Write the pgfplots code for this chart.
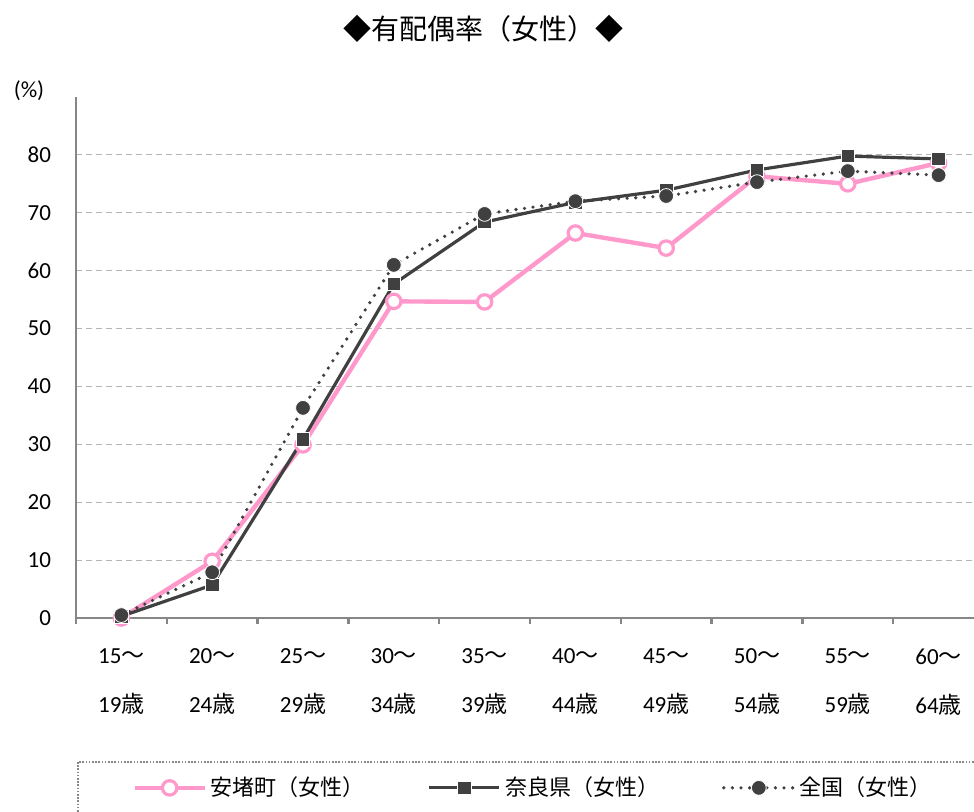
\documentclass[border=0pt]{standalone}
\usepackage{fontspec}
\setmainfont{Carlito}
\newfontfamily\jp{Noto Sans CJK JP}
\usepackage{pgfplots}
\pgfplotsset{compat=1.18}
\definecolor{pinkc}{RGB}{255,153,204}
\definecolor{darkc}{RGB}{64,64,64}
\definecolor{axisc}{RGB}{134,134,134}
\definecolor{gridc}{RGB}{180,180,180}
\newcommand\lab[2]{#1{\jp ～}\\#2{\jp 歳}}
\begin{document}
\begin{tikzpicture}
\useasboundingbox (0,0) rectangle (487pt,405.5pt);
\node[font=\jp\fontsize{14pt}{16pt}\selectfont] at (241.5pt,391pt) {◆有配偶率（女性）◆};
\node[font=\fontsize{11.5pt}{13pt}\selectfont] at (14.5pt,360pt) {(\%)};
\draw[axisc, dash pattern=on 0.8pt off 0.8pt, line width=0.8pt] (39pt,24.5pt) rectangle (500pt,-20pt);
\begin{axis}[
  at={(38pt,96.5pt)}, anchor=south west,
  scale only axis, width=449pt, height=260.5pt,
  xmin=-0.5, xmax=9.39, ymin=0, ymax=90,
  axis x line=bottom, axis y line=left,
  axis line style={axisc, line width=1.2pt, -},
  ytick={0,10,...,80},
  ymajorgrids, grid style={gridc, dash pattern=on 3pt off 2pt, line width=0.6pt},
  ytick style={draw=none},
  yticklabel style={font=\fontsize{11.5pt}{13pt}\selectfont, inner sep=0pt, xshift=-8pt},
  /pgf/number format/assume math mode=true,
  xtick={0,...,9},
  xticklabels={{\lab{15}{19}},{\lab{20}{24}},{\lab{25}{29}},{\lab{30}{34}},{\lab{35}{39}},{\lab{40}{44}},{\lab{45}{49}},{\lab{50}{54}},{\lab{55}{59}},{\lab{60}{64}}},
  xticklabel style={align=center, font=\fontsize{11.5pt}{24.5pt}\selectfont, inner sep=0pt, yshift=-11pt},
  major x tick style={draw=none},
  minor xtick={-0.5,0.5,...,9.5},
  minor x tick style={axisc, line width=1.2pt},
  minor tick length=3pt,
  tick align=outside,
  clip=false,
  legend columns=3,
  legend style={at={(0.0624,-0.326)}, anchor=west, draw=none, fill=none, inner sep=0pt,
    font=\jp\fontsize{11pt}{13pt}\selectfont,
    /tikz/every even column/.append style={column sep=29.5pt},
    /tikz/every odd column/.append style={column sep=0pt}},
  legend image code/.code={\draw[mark repeat=2,mark phase=2] plot coordinates {(0pt,0pt)(17.5pt,0pt)(35pt,0pt)};},
]
\addplot[pinkc, line width=2.2pt, mark=*, mark size=3.6pt, mark options={fill=white, draw=pinkc, line width=1.6pt, solid}]
coordinates {(0,0) (1,9.8) (2,29.9) (3,54.7) (4,54.6) (5,66.5) (6,63.9) (7,76.3) (8,75.0) (9,78.6)};
\addlegendentry{安堵町（女性）}
\addplot[darkc, line width=1.6pt, mark=square*, mark size=3.4pt, mark options={fill=darkc, draw=white, line width=0.4pt, solid}]
coordinates {(0,0.3) (1,5.7) (2,30.9) (3,57.7) (4,68.4) (5,71.8) (6,73.9) (7,77.4) (8,79.8) (9,79.3)};
\addlegendentry{奈良県（女性）}
\addplot[darkc, line width=1.8pt, line cap=round, dash pattern=on 0pt off 4.3pt, mark=*, mark size=3.7pt, mark options={fill=darkc, draw=white, line width=0.4pt, solid}]
coordinates {(0,0.5) (1,7.9) (2,36.3) (3,61.0) (4,69.8) (5,72.0) (6,72.9) (7,75.3) (8,77.2) (9,76.5)};
\addlegendentry{全国（女性）}
\end{axis}
\end{tikzpicture}
\end{document}
